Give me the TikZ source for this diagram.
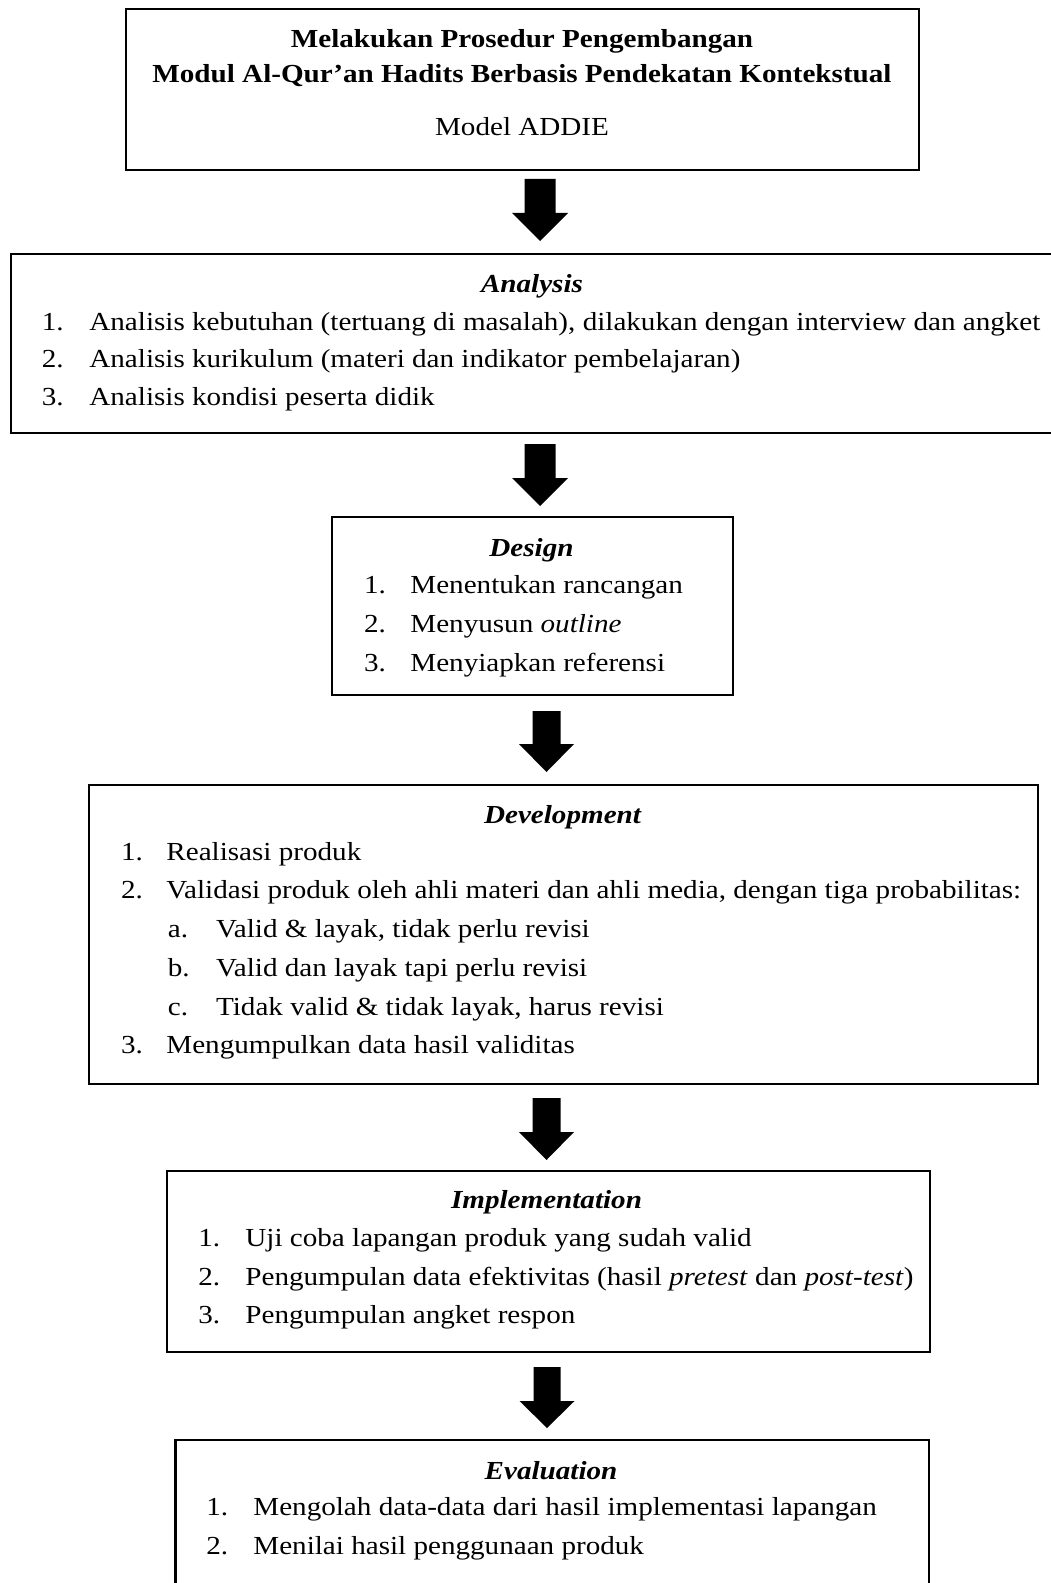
\documentclass[tikz,border=0pt]{standalone}
\usepackage{fontspec}
\setmainfont{Liberation Serif}[FakeStretch=1.12]
\usetikzlibrary{fit}
\tikzset{
  boxline/.style={draw=black, line width=1.25pt, inner sep=0pt, fill=none},
  txt/.style={inner sep=0pt, font=\fontsize{13}{15}\selectfont},
  ttl/.style={inner sep=0pt, font=\fontsize{13}{15}\selectfont\bfseries},
  head/.style={inner sep=0pt, font=\fontsize{13}{15}\selectfont\bfseries\itshape, anchor=base},
  num/.style={txt, anchor=base west},
  item/.style={txt, anchor=base west},
}
\newcommand\bigarrow[6]{%
  \fill[black] (#1-#3,#2) -- (#1+#3,#2) -- (#1+#3,#5) -- (#1+#4,#5) -- (#1,#6)
    -- (#1-#4,#5) -- (#1-#3,#5) -- cycle;}
\begin{document}
\begin{tikzpicture}[x=0.5pt,y=-0.5pt]
\useasboundingbox[fill=white] (0,0) rectangle (1050,1583);
% ---------- boxes ----------
\node[boxline, fit={(126,9) (919,170)}] (bTop) {};
\node[boxline, fit={(11,254) (1070,433)}] (bAna) {};
\node[boxline, fit={(332,517) (733,695)}] (bDes) {};
\node[boxline, fit={(89,785) (1038,1084)}] (bDev) {};
\node[boxline, fit={(167,1171) (930,1352)}] (bImp) {};
\node[boxline, fit={(175.5,1440) (929,1620)}] (bEva) {};
% ---------- arrows ----------
\bigarrow{540}{179}{15.5}{28}{213}{241}
\bigarrow{540}{444}{15.5}{28}{478}{506}
\bigarrow{546.5}{711}{14}{27.5}{744}{772}
\bigarrow{546.5}{1098}{14}{27.5}{1132}{1160}
\bigarrow{547}{1367}{13.5}{27.5}{1401}{1428}
% ---------- top box ----------
\node[ttl, anchor=base] (t1) at (522,48) {Melakukan Prosedur Pengembangan};
\node[ttl, anchor=base] (t2) at (522,83) {Modul Al-Qur’an Hadits Berbasis Pendekatan Kontekstual};
\node[txt, anchor=base] (t3) at (522,136) {Model ADDIE};
% ---------- Analysis ----------
\node[head] (hA) at (532,293) {Analysis};
\node[num] (a1n) at (41.5,330) {1.};
\node[item] (a1) at (89,330) {Analisis kebutuhan (tertuang di masalah), dilakukan dengan interview dan angket};
\node[num] (a2n) at (41.5,367.5) {2.};
\node[item] (a2) at (89,367.5) {Analisis kurikulum (materi dan indikator pembelajaran)};
\node[num] (a3n) at (41.5,405) {3.};
\node[item] (a3) at (89,405) {Analisis kondisi peserta didik};
% ---------- Design ----------
\node[head] (hD) at (531.5,556) {Design};
\node[num] (d1n) at (363.7,593) {1.};
\node[item] (d1) at (410,593) {Menentukan rancangan};
\node[num] (d2n) at (363.7,632) {2.};
\node[item] (d2) at (410,632) {Menyusun \textit{outline}};
\node[num] (d3n) at (363.7,671) {3.};
\node[item] (d3) at (410,671) {Menyiapkan referensi};
% ---------- Development ----------
\node[head] (hV) at (562.5,823) {Development};
\node[num] (v1n) at (120.6,860) {1.};
\node[item] (v1) at (166,860) {Realisasi produk};
\node[num] (v2n) at (120.6,898) {2.};
\node[item] (v2) at (166,898) {Validasi produk oleh ahli materi dan ahli media, dengan tiga probabilitas:};
\node[num] (vAn) at (167.5,937) {a.};
\node[item] (vA) at (215.7,937) {Valid \& layak, tidak perlu revisi};
\node[num] (vBn) at (167.5,976) {b.};
\node[item] (vB) at (215.7,976) {Valid dan layak tapi perlu revisi};
\node[num] (vCn) at (167.5,1015) {c.};
\node[item] (vC) at (215.7,1015) {Tidak valid \& tidak layak, harus revisi};
\node[num] (v3n) at (120.6,1053) {3.};
\node[item] (v3) at (166,1053) {Mengumpulkan data hasil validitas};
% ---------- Implementation ----------
\node[head] (hI) at (546.5,1208) {Implementation};
\node[num] (i1n) at (198,1246) {1.};
\node[item] (i1) at (245,1246) {Uji coba lapangan produk yang sudah valid};
\node[num] (i2n) at (198,1285) {2.};
\node[item] (i2) at (245,1285) {Pengumpulan data efektivitas (hasil \textit{pretest} dan \textit{post-test})};
\node[num] (i3n) at (198,1323) {3.};
\node[item] (i3) at (245,1323) {Pengumpulan angket respon};
% ---------- Evaluation ----------
\node[head] (hE) at (551,1479) {Evaluation};
\node[num] (e1n) at (206,1515) {1.};
\node[item] (e1) at (253,1515) {Mengolah data-data dari hasil implementasi lapangan};
\node[num] (e2n) at (206,1554) {2.};
\node[item] (e2) at (253,1554) {Menilai hasil penggunaan produk};
\end{tikzpicture}
\end{document}
